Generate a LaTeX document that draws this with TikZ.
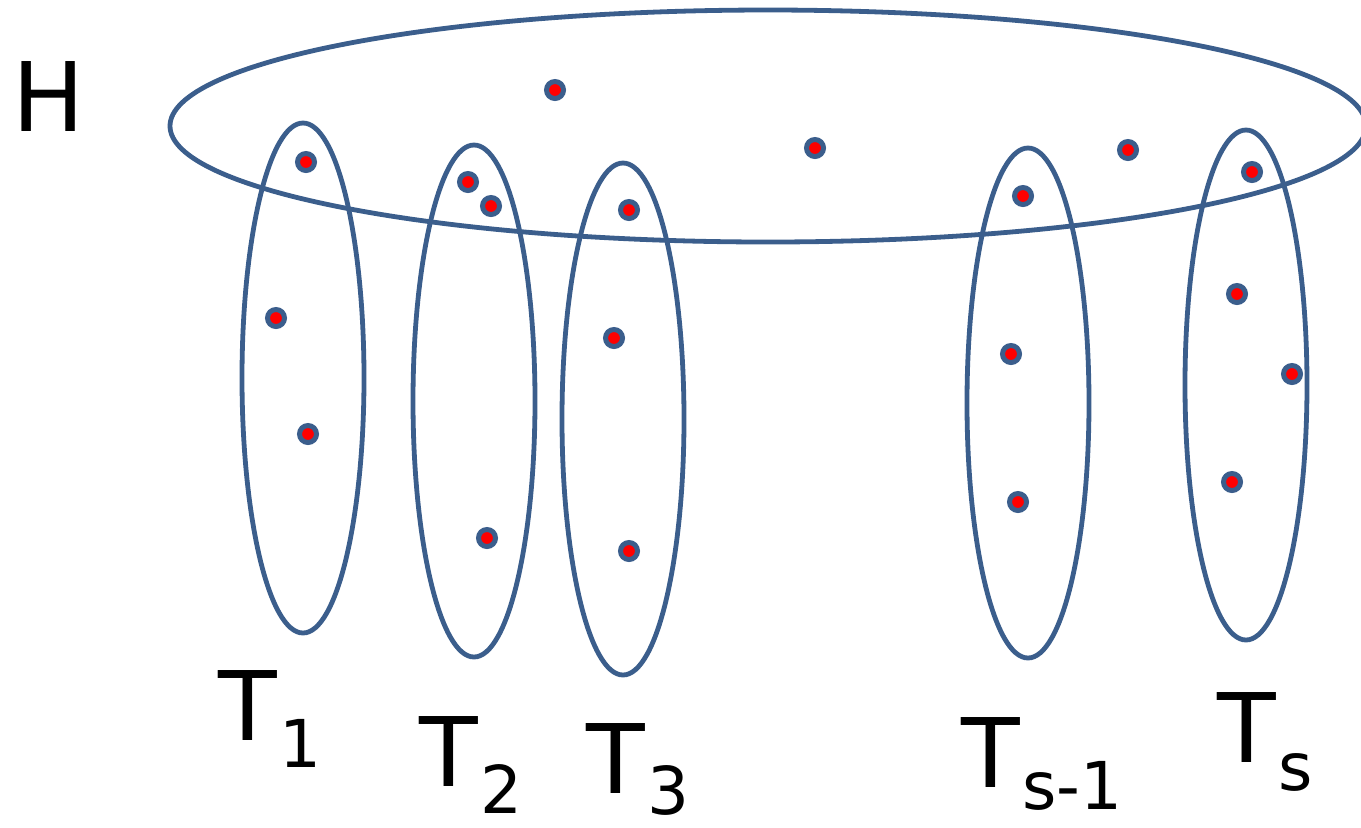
\documentclass[tikz,border=0pt]{standalone}
\usepackage{fontspec}
\setmainfont{DejaVu Sans}
\definecolor{setblue}{HTML}{3B5E8C}
\definecolor{dotred}{HTML}{FF0000}
\newcommand{\bigfnt}{\fontsize{48}{56}\selectfont}
\newcommand{\subfnt}{\fontsize{33}{40}\selectfont}
\tikzset{
  setline/.style={draw=setblue, line width=2.4pt},
  vdot/.style={circle, fill=dotred, draw=setblue, line width=2.5pt, minimum size=8.5pt, inner sep=0pt},
  lab/.style={anchor=base west, inner sep=0pt, text=black},
}
\begin{document}
\begin{tikzpicture}[x=0.5pt,y=-0.5pt]
\useasboundingbox (0,0) rectangle (1361,827);
\begin{scope}
\clip (0,0) rectangle (1361,827);
% H
\draw[setline] (768,126) ellipse [x radius=598, y radius=116];
% T sets
\draw[setline] (303,378) ellipse [x radius=61, y radius=255];
\draw[setline] (474,401) ellipse [x radius=61, y radius=256];
\draw[setline] (623,419) ellipse [x radius=61, y radius=256];
\draw[setline] (1028,403) ellipse [x radius=61, y radius=255];
\draw[setline] (1246,385) ellipse [x radius=61, y radius=255];
\end{scope}
% dots
\node[vdot] (h1) at (555,90) {};
\node[vdot] (h2) at (815,148) {};
\node[vdot] (h3) at (1128,150) {};
\node[vdot] (a1) at (306,162) {};
\node[vdot] (a2) at (276,318) {};
\node[vdot] (a3) at (308,434) {};
\node[vdot] (b1) at (468,182) {};
\node[vdot] (b2) at (491,206) {};
\node[vdot] (b3) at (487,538) {};
\node[vdot] (c1) at (629,210) {};
\node[vdot] (c2) at (614,338) {};
\node[vdot] (c3) at (629,551) {};
\node[vdot] (d1) at (1023,196) {};
\node[vdot] (d2) at (1011,354) {};
\node[vdot] (d3) at (1018,502) {};
\node[vdot] (e1) at (1252,172) {};
\node[vdot] (e2) at (1237,294) {};
\node[vdot] (e3) at (1292,374) {};
\node[vdot] (e4) at (1232,482) {};
% labels
\node[lab] (lH) at (12,131) {\bigfnt H};
\node[lab] (l1) at (218,740) {\bigfnt T\kern1pt\raisebox{-13.5pt}{\subfnt 1}};
\node[lab] (l2) at (419,786) {\bigfnt T\kern1pt\raisebox{-13.5pt}{\subfnt 2}};
\node[lab] (l3) at (586,793) {\bigfnt T\kern1pt\raisebox{-10.5pt}{\subfnt 3}};
\node[lab] (l4) at (961,787) {\bigfnt T\kern1pt\raisebox{-11pt}{\subfnt s-1}};
\node[lab] (l5) at (1217,762) {\bigfnt T\kern1pt\raisebox{-14pt}{\subfnt s}};
\end{tikzpicture}
\end{document}
